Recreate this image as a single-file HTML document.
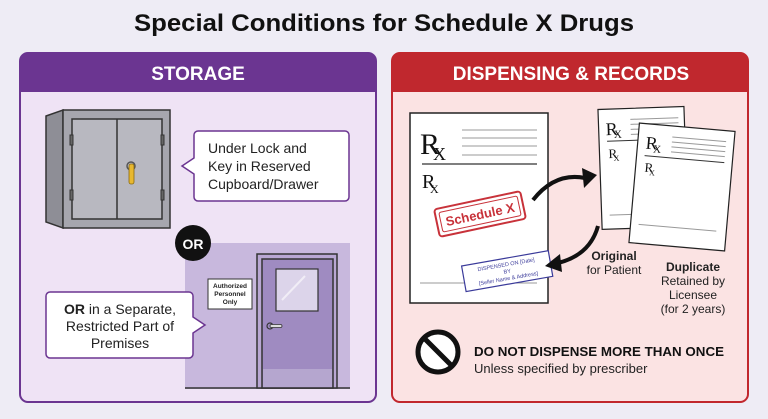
<!DOCTYPE html>
<html><head><meta charset="utf-8"><style>
html,body{margin:0;padding:0;background:#eeecf5;}
svg{display:block;font-family:"Liberation Sans",sans-serif;}
</style></head><body>
<svg width="768" height="419" viewBox="0 0 768 419" xmlns="http://www.w3.org/2000/svg">
<rect width="768" height="419" fill="#eeecf5"/>
<text x="384" y="31" text-anchor="middle" font-size="24" font-weight="bold" fill="#111" textLength="500" lengthAdjust="spacingAndGlyphs">Special Conditions for Schedule X Drugs</text>

<!-- LEFT PANEL -->
<rect x="20" y="53" width="356" height="349" rx="8" fill="#efe3f5" stroke="#6b3591" stroke-width="2"/>
<path d="M20 92 V61 a8 8 0 0 1 8 -8 H368 a8 8 0 0 1 8 8 V92 Z" fill="#6b3591"/>
<text x="198" y="80" text-anchor="middle" font-size="19" font-weight="bold" fill="#fff">STORAGE</text>

<!-- cabinet -->
<polygon points="46,116 63,110 63,228 46,222" fill="#8e8e96" stroke="#333" stroke-width="1.5"/>
<rect x="63" y="110" width="107" height="118" fill="#a6a6ae" stroke="#333" stroke-width="1.5"/>
<rect x="72" y="119" width="90" height="100" fill="#b8b8c0" stroke="#333" stroke-width="1.5"/>
<line x1="117" y1="119" x2="117" y2="219" stroke="#333" stroke-width="1.5"/>
<rect x="70" y="135" width="3" height="10" fill="#666" stroke="#333"/>
<rect x="70" y="190" width="3" height="10" fill="#666" stroke="#333"/>
<rect x="161" y="135" width="3" height="10" fill="#666" stroke="#333"/>
<rect x="161" y="190" width="3" height="10" fill="#666" stroke="#333"/>
<circle cx="131" cy="166" r="4" fill="none" stroke="#555" stroke-width="1.5"/>
<rect x="129" y="164" width="5" height="20" rx="2" fill="#e8b830" stroke="#8a6a10" stroke-width="0.8"/>

<!-- bubble 1 -->
<path d="M198 131 H345 a4 4 0 0 1 4 4 V197 a4 4 0 0 1 -4 4 H198 a4 4 0 0 1 -4 -4 V174 L182 166 L194 158 V135 a4 4 0 0 1 4 -4 Z" fill="#fff" stroke="#6b3591" stroke-width="1.5"/>
<text font-size="14" fill="#222"><tspan x="208" y="153">Under Lock and</tspan><tspan x="208" y="171">Key in Reserved</tspan><tspan x="208" y="189">Cupboard/Drawer</tspan></text>

<!-- room -->
<rect x="185" y="243" width="165" height="146" fill="#c8b8dd"/>
<line x1="185" y1="388" x2="350" y2="388" stroke="#333" stroke-width="1.5"/>
<rect x="257" y="254" width="80" height="134" fill="#b9a7d3" stroke="#333" stroke-width="1.5"/>
<rect x="262" y="259" width="71" height="129" fill="#9f8bc1" stroke="#333" stroke-width="1.5"/>
<rect x="263" y="369" width="69" height="18" fill="#b5a6cf"/>
<rect x="276" y="269" width="42" height="42" fill="#dcd4ea" stroke="#333" stroke-width="1.2"/>
<line x1="282" y1="300" x2="305" y2="276" stroke="#fff" stroke-width="2" opacity="0.6"/>
<circle cx="270" cy="326" r="3" fill="none" stroke="#333" stroke-width="1.2"/>
<rect x="270" y="324.5" width="12" height="3" rx="1.5" fill="#ddd" stroke="#333" stroke-width="0.8"/>
<rect x="208" y="279" width="44" height="30" fill="#fff" stroke="#333" stroke-width="1"/>
<text font-size="6.5" font-weight="bold" fill="#222" text-anchor="middle"><tspan x="230" y="288">Authorized</tspan><tspan x="230" y="296">Personnel</tspan><tspan x="230" y="304">Only</tspan></text>

<circle cx="193" cy="243" r="18" fill="#111"/>
<text x="193" y="249" text-anchor="middle" font-size="14" font-weight="bold" fill="#fff">OR</text>

<!-- bubble 2 -->
<path d="M50 292 H189 a4 4 0 0 1 4 4 V317 L205 325 L193 333 V354 a4 4 0 0 1 -4 4 H50 a4 4 0 0 1 -4 -4 V296 a4 4 0 0 1 4 -4 Z" fill="#fff" stroke="#6b3591" stroke-width="1.5"/>
<text font-size="14" fill="#222" text-anchor="middle"><tspan x="120" y="314"><tspan font-weight="bold">OR</tspan> in a Separate,</tspan><tspan x="120" y="331">Restricted Part of</tspan><tspan x="120" y="348">Premises</tspan></text>

<!-- RIGHT PANEL -->
<rect x="392" y="53" width="356" height="349" rx="8" fill="#fbe3e3" stroke="#c1272d" stroke-width="2"/>
<path d="M392 92 V61 a8 8 0 0 1 8 -8 H740 a8 8 0 0 1 8 8 V92 Z" fill="#c0282e"/>
<text x="571" y="80" text-anchor="middle" font-size="19" font-weight="bold" fill="#fff">DISPENSING &amp; RECORDS</text>

<!-- big paper -->
<rect x="410" y="113" width="138" height="190" fill="#fff" stroke="#222" stroke-width="1.5"/>
<text x="420" y="154" font-family="Liberation Serif,serif" font-size="30" fill="#111">R</text>
<text x="433" y="160" font-family="Liberation Serif,serif" font-size="18" fill="#111">X</text>
<g stroke="#999" stroke-width="1"><line x1="462" y1="130" x2="537" y2="130"/><line x1="462" y1="138" x2="537" y2="138"/><line x1="462" y1="146" x2="537" y2="146"/><line x1="462" y1="155" x2="537" y2="155"/><line x1="420" y1="283" x2="537" y2="283"/></g>
<line x1="422" y1="164" x2="537" y2="164" stroke="#333" stroke-width="1.2"/>
<text x="422" y="188" font-family="Liberation Serif,serif" font-size="20" fill="#111">R</text>
<text x="430" y="193" font-family="Liberation Serif,serif" font-size="12" fill="#111">X</text>
<g transform="rotate(-12 480 214)">
<rect x="436" y="200" width="88" height="28" rx="3" fill="#fff" stroke="#c8323a" stroke-width="2"/>
<rect x="440" y="204" width="80" height="20" rx="2" fill="none" stroke="#c8323a" stroke-width="1"/>
<text x="480" y="219" text-anchor="middle" font-size="13" font-weight="bold" fill="#c8323a">Schedule X</text>
</g>
<g transform="rotate(-10 508 270)">
<rect x="463" y="258" width="88" height="26" fill="#fff" stroke="#3a3a9a" stroke-width="1.2"/>
<text font-size="5.5" fill="#3a3a9a" text-anchor="middle"><tspan x="507" y="266">DISPENSED ON [Date]</tspan><tspan x="507" y="273">BY</tspan><tspan x="507" y="280">[Seller Name &amp; Address]</tspan></text>
</g>

<!-- arrows -->
<path d="M533 200 Q555 172 585 178" fill="none" stroke="#111" stroke-width="4"/>
<polygon points="597,175 582,168 584,188" fill="#111"/>
<path d="M598 226 Q590 255 558 263" fill="none" stroke="#111" stroke-width="4"/>
<polygon points="545,266 560,254 562,272" fill="#111"/>

<!-- small papers -->
<g transform="rotate(-2 642 167)">
<rect x="600" y="108" width="86" height="120" fill="#fff" stroke="#222" stroke-width="1.2"/>
<text x="607" y="134" font-family="Liberation Serif,serif" font-size="18" fill="#111">R</text>
<text x="615" y="137" font-family="Liberation Serif,serif" font-size="11" fill="#111">X</text>
<g stroke="#999"><line x1="632" y1="119" x2="680" y2="119"/><line x1="632" y1="124" x2="680" y2="124"/><line x1="632" y1="129" x2="680" y2="129"/><line x1="632" y1="134" x2="680" y2="134"/><line x1="608" y1="214" x2="640" y2="214"/></g>
<line x1="608" y1="140" x2="680" y2="140" stroke="#333"/>
<text x="609" y="157" font-family="Liberation Serif,serif" font-size="13" fill="#111">R</text>
<text x="614" y="160" font-family="Liberation Serif,serif" font-size="8" fill="#111">X</text>
</g>
<g transform="rotate(5 682 187)">
<rect x="634" y="127" width="96" height="120" fill="#fff" stroke="#222" stroke-width="1.2"/>
<text x="642" y="152" font-family="Liberation Serif,serif" font-size="18" fill="#111">R</text>
<text x="650" y="155" font-family="Liberation Serif,serif" font-size="11" fill="#111">X</text>
<g stroke="#999"><line x1="668" y1="138" x2="722" y2="138"/><line x1="668" y1="143" x2="722" y2="143"/><line x1="668" y1="148" x2="722" y2="148"/><line x1="668" y1="153" x2="722" y2="153"/><line x1="642" y1="228" x2="720" y2="228"/></g>
<line x1="642" y1="159" x2="722" y2="159" stroke="#333"/>
<text x="643" y="175" font-family="Liberation Serif,serif" font-size="13" fill="#111">R</text>
<text x="648" y="178" font-family="Liberation Serif,serif" font-size="8" fill="#111">X</text>
</g>

<text font-size="12" fill="#222" text-anchor="middle"><tspan x="614" y="260" font-weight="bold">Original</tspan><tspan x="614" y="274">for Patient</tspan></text>
<text font-size="12" fill="#222" text-anchor="middle"><tspan x="693" y="271" font-weight="bold">Duplicate</tspan><tspan x="693" y="285">Retained by</tspan><tspan x="693" y="299">Licensee</tspan><tspan x="693" y="313">(for 2 years)</tspan></text>

<!-- no sign -->
<circle cx="438" cy="352" r="20" fill="#fff" stroke="#111" stroke-width="5"/>
<line x1="424" y1="338" x2="452" y2="366" stroke="#111" stroke-width="5"/>
<text x="474" y="356" font-size="13" font-weight="bold" fill="#111" textLength="250" lengthAdjust="spacingAndGlyphs">DO NOT DISPENSE MORE THAN ONCE</text>
<text x="474" y="373" font-size="13" fill="#222">Unless specified by prescriber</text>
</svg>
</body></html>
